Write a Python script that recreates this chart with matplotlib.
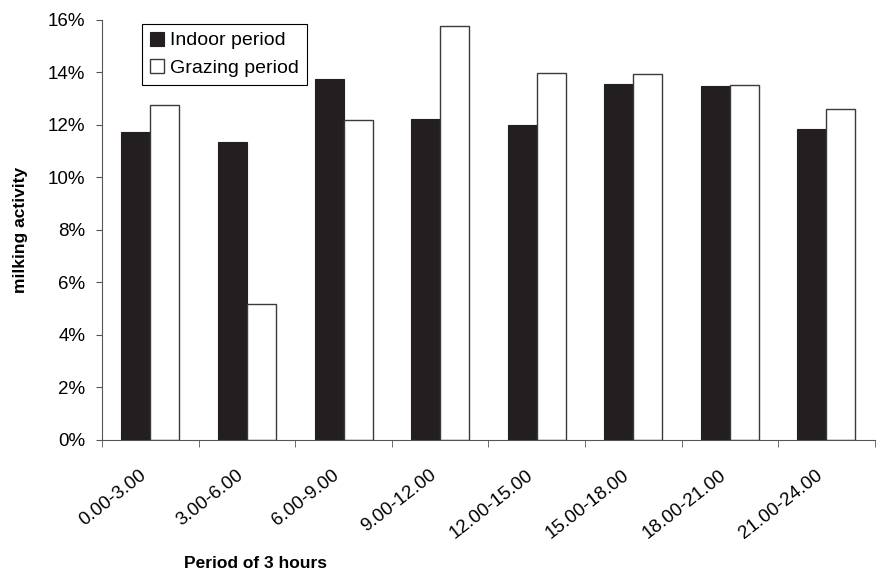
import matplotlib.pyplot as plt
import matplotlib.transforms as mtransforms
import numpy as np
from matplotlib.ticker import PercentFormatter

plt.rcParams['font.family'] = ['Liberation Sans', 'DejaVu Sans']

periods = ['0.00-3.00', '3.00-6.00', '6.00-9.00', '9.00-12.00',
           '12.00-15.00', '15.00-18.00', '18.00-21.00', '21.00-24.00']
indoor = [11.71, 11.35, 13.73, 12.24, 12.00, 13.54, 13.49, 11.86]
grazing = [12.77, 5.17, 12.19, 15.75, 13.97, 13.92, 13.51, 12.62]

fig = plt.figure(figsize=(8.8, 5.82), dpi=100)
ax = fig.add_axes([0.116, 0.244, 0.878, 0.722])

x = np.arange(len(periods))
w = 0.3
ax.bar(x - w / 2, indoor, w, color='#231f20', edgecolor='#231f20', linewidth=0.8, label='Indoor period')
ax.bar(x + w / 2, grazing, w, color='white', edgecolor='#3a3a3a', linewidth=1.0, label='Grazing period')

ax.set_xlim(-0.5, len(periods) - 0.5)
ax.set_ylim(0, 16)
ax.set_yticks(np.arange(0, 17, 2))
ax.yaxis.set_major_formatter(PercentFormatter(decimals=0))

# category labels in the middle, tick marks on the group boundaries
ax.set_xticks(x)
ax.set_xticklabels(periods, rotation=38, ha='right', va='center', rotation_mode='anchor')
ax.tick_params(axis='x', which='major', length=0, pad=24, labelsize=13.5)
shift = mtransforms.ScaledTranslation(-6 / 100, 0, fig.dpi_scale_trans)
for lab in ax.get_xticklabels():
    lab.set_transform(lab.get_transform() + shift)
ax.set_xticks(np.arange(len(periods) + 1) - 0.5, minor=True)
ax.tick_params(axis='x', which='minor', length=5, color='#555555', direction='out')
ax.tick_params(axis='y', length=4, color='#555555', labelsize=13.5, pad=8)

for spine in ['top', 'right']:
    ax.spines[spine].set_visible(False)
for spine in ['left', 'bottom']:
    ax.spines[spine].set_color('#555555')

ax.set_ylabel('milking activity', fontweight='bold', fontsize=12.5, labelpad=14)
fig.text(256 / 880, 1 - 563 / 582, 'Period of 3 hours', fontweight='bold', fontsize=12.5,
         ha='center', va='center')

leg = ax.legend(loc='upper left', bbox_to_anchor=(0.052, 0.99), fontsize=14,
                handlelength=0.72, handleheight=0.72, handletextpad=0.3,
                borderpad=0.4, labelspacing=0.5, fancybox=False, framealpha=1,
                borderaxespad=0)
leg.get_frame().set_edgecolor('black')
leg.get_frame().set_linewidth(0.8)

fig.savefig('out.png', dpi=100)
